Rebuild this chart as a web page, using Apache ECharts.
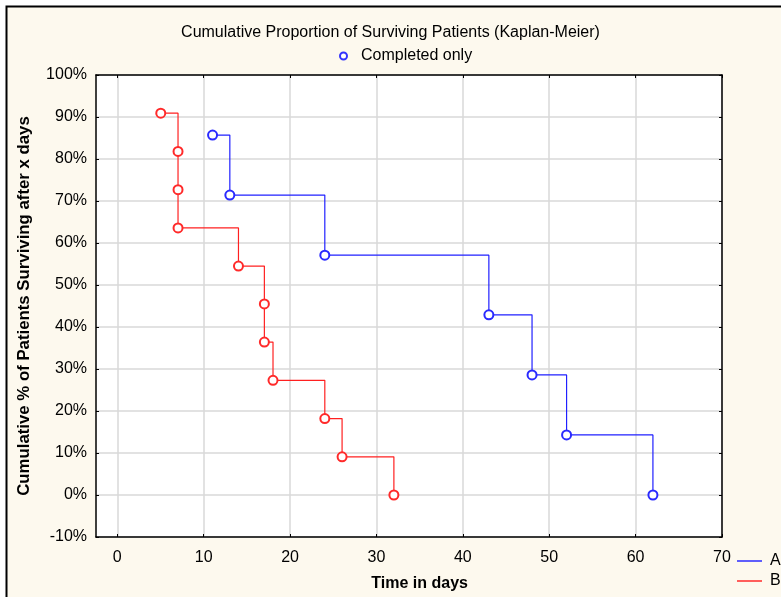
<!DOCTYPE html>
<html>
<head>
<meta charset="utf-8">
<script src="https://cdn.jsdelivr.net/npm/echarts@6/dist/echarts.min.js"></script>
<style>
html,body{margin:0;padding:0;background:#fff;}
#c{width:781px;height:597px;}
</style>
</head>
<body>
<div id="c"></div>
<script>
// Data
var titleText = 'Cumulative Proportion of Surviving Patients (Kaplan-Meier)';
var subLegend = 'Completed only';
var xTitle = 'Time in days';
var yTitle = 'Cumulative % of Patients Surviving after x days';
var seriesNames = ['A', 'B'];
var timesA = [11, 13, 24, 43, 48, 52, 62];
var survA  = [85.7, 71.4, 57.1, 42.9, 28.6, 14.3, 0];
var timesB = [5, 7, 7, 7, 14, 17, 17, 18, 24, 26, 32];
var survB  = [90.9, 81.8, 72.7, 63.6, 54.5, 45.5, 36.4, 27.3, 18.2, 9.1, 0];
var xTicks = [0, 10, 20, 30, 40, 50, 60, 70];
var yTicks = [-10, 0, 10, 20, 30, 40, 50, 60, 70, 80, 90, 100];

function pairs(xs, ys){ return xs.map(function(x,i){ return [x, ys[i]]; }); }

var FONT = 'Liberation Sans';
var FRAME = {show: true, onZero: false, lineStyle: {color: '#000', width: 1.5}};
var chart = echarts.init(document.getElementById('c'), null, {renderer:'canvas'});
var option = {
  backgroundColor: '#ffffff',
  animation: false,
  textStyle: {fontFamily: FONT},
  graphic: [{
    type: 'rect', z: -100, silent: true,
    shape: {x: 6.5, y: 6.5, width: 820, height: 640},
    style: {fill: '#fdf9ee', stroke: '#000', lineWidth: 2}
  }],
  title: {
    text: titleText, left: 'center', top: 25, padding: 0,
    textStyle: {fontFamily: FONT, fontSize: 16, fontWeight: 'normal', color: '#000'}
  },
  legend: [{
    data: [{name: subLegend, icon: 'emptyCircle'}],
    left: 339, top: 48, padding: 0, itemWidth: 7, itemHeight: 7, selectedMode: false,
    textStyle: {fontFamily: FONT, fontSize: 16, color: '#000', padding: [0, 0, 0, 9]}
  }, {
    data: [{name: seriesNames[0], icon: 'rect'}],
    left: 737, top: 553, padding: 0, itemWidth: 25, itemHeight: 1.5, selectedMode: false,
    textStyle: {fontFamily: FONT, fontSize: 16, color: '#000', padding: [0, 0, 0, 3]}
  }, {
    data: [{name: seriesNames[1], icon: 'rect'}],
    left: 737, top: 573, padding: 0, itemWidth: 25, itemHeight: 1.5, selectedMode: false,
    textStyle: {fontFamily: FONT, fontSize: 16, color: '#000', padding: [0, 0, 0, 3]}
  }],
  grid: [
    {left: 96, right: 59, top: 75, bottom: 60, show: true, backgroundColor: '#ffffff', borderWidth: 0},
    {left: 117.3, right: 59, top: 75, bottom: 60, show: false}
  ],
  xAxis: [
    {gridIndex: 0, type: 'value', min: -2.5, max: 70, position: 'bottom',
     axisLine: FRAME, axisTick: {show: false}, axisLabel: {show: false}, splitLine: {show: false}},
    {gridIndex: 1, type: 'value', min: 0, max: 70, interval: 10, position: 'bottom',
     name: xTitle, nameLocation: 'middle', nameGap: 39,
     nameTextStyle: {fontFamily: FONT, fontSize: 16, fontWeight: 'bold', color: '#000', align: 'center'},
     axisLine: {show: false, onZero: false},
     axisTick: {show: true, inside: true, length: 3, lineStyle: {color: '#000'}},
     axisLabel: {show: true, margin: 13, fontFamily: FONT, fontSize: 16, color: '#000'},
     splitLine: {show: true, lineStyle: {color: '#d9d9d9', width: 1.5}}},
    {gridIndex: 1, type: 'value', min: 0, max: 70, interval: 10, position: 'top',
     axisLine: {show: false, onZero: false},
     axisTick: {show: true, inside: true, length: 3, lineStyle: {color: '#000'}},
     axisLabel: {show: false}, splitLine: {show: false}},
    {gridIndex: 0, type: 'value', min: -2.5, max: 70, position: 'top',
     axisLine: FRAME, axisTick: {show: false}, axisLabel: {show: false}, splitLine: {show: false}}
  ],
  yAxis: [
    {gridIndex: 0, type: 'value', min: -10, max: 100, interval: 10, position: 'left',
     name: yTitle, nameLocation: 'middle', nameGap: 63,
     nameTextStyle: {fontFamily: FONT, fontSize: 16.8, fontWeight: 'bold', color: '#000'},
     axisLine: FRAME,
     axisTick: {show: true, inside: true, length: 3, lineStyle: {color: '#000'}},
     axisLabel: {show: true, margin: 9, fontFamily: FONT, fontSize: 16, color: '#000',
                 formatter: function(v){ return v + '%'; }},
     splitLine: {show: true, lineStyle: {color: '#d9d9d9', width: 1.5}}},
    {gridIndex: 1, type: 'value', min: -10, max: 100, interval: 10, show: false},
    {gridIndex: 0, type: 'value', min: -10, max: 100, interval: 10, position: 'right',
     axisLine: FRAME,
     axisTick: {show: true, inside: true, length: 3, lineStyle: {color: '#000'}},
     axisLabel: {show: false}, splitLine: {show: false}}
  ],
  series: [
    {name: seriesNames[0], type: 'line', xAxisIndex: 0, yAxisIndex: 0, step: 'end',
     data: pairs(timesA, survA), symbol: 'emptyCircle', symbolSize: 9, showAllSymbol: true,
     color: '#0000ff', lineStyle: {color: '#2020ff', width: 1.2},
     itemStyle: {color: '#2a2aff', borderWidth: 0.8}, z: 3},
    {name: seriesNames[1], type: 'line', xAxisIndex: 0, yAxisIndex: 0, step: 'end',
     data: pairs(timesB, survB), symbol: 'emptyCircle', symbolSize: 9, showAllSymbol: true,
     color: '#ff0000', lineStyle: {color: '#ff2020', width: 1.2},
     itemStyle: {color: '#ff2a2a', borderWidth: 0.8}, z: 3},
    {name: subLegend, type: 'scatter', xAxisIndex: 0, yAxisIndex: 0, data: [],
     symbol: 'emptyCircle', color: '#0000ff',
     itemStyle: {color: '#0000ff', borderWidth: 1.5}}
  ]
};
chart.setOption(option);
</script>
</body>
</html>
